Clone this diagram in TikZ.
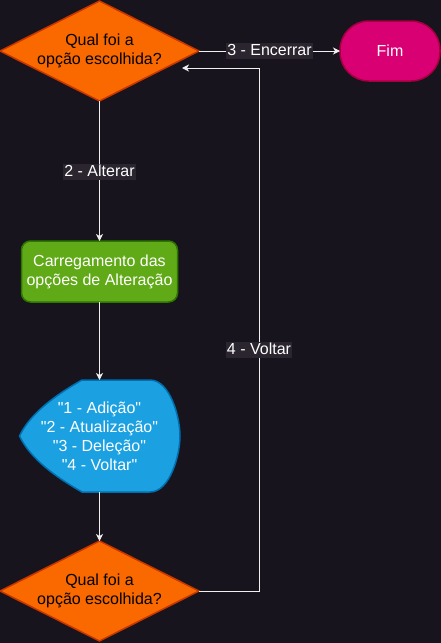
\documentclass[tikz,border=0pt]{standalone}
\usepackage{fontspec}
\setmainfont{Liberation Sans}[Ligatures=TeXOff]
\usetikzlibrary{shapes.geometric,positioning,arrows.meta}

\definecolor{bgdark}{HTML}{18141D}
\definecolor{linec}{HTML}{F0F0F0}
\definecolor{tagbg}{HTML}{2A252F}
\definecolor{decfill}{HTML}{FA6800}
\definecolor{decline}{HTML}{C73500}
\definecolor{procfill}{HTML}{60A917}
\definecolor{procline}{HTML}{2D7600}
\definecolor{dispfill}{HTML}{1BA1E2}
\definecolor{displine}{HTML}{006EAF}
\definecolor{endfill}{HTML}{D80073}
\definecolor{endline}{HTML}{A50040}

\begin{document}
\begin{tikzpicture}[x=1pt,y=1pt,every node/.style={outer sep=0pt},
 font=\fontsize{16}{19}\selectfont,
 decision/.style={diamond,aspect=2,draw=decline,fill=decfill,line width=1.5pt,
 inner sep=0pt,minimum width=199pt,minimum height=100pt,align=center,text=black},
 process/.style={rectangle,rounded corners=9pt,draw=procline,fill=procfill,
 line width=1.5pt,minimum width=156pt,minimum height=61pt,align=center,text=white},
 terminal/.style={rectangle,rounded corners=29pt,draw=endline,fill=endfill,
 line width=1.5pt,minimum width=100pt,minimum height=60pt,text=white},
 display/.style={draw=displine,fill=dispfill,line width=1.5pt},
 flow/.style={draw=linec,line width=1pt,-{Stealth[length=7pt,width=7pt,inset=2pt]}},
 tag/.style={fill=tagbg,text=white,inner xsep=1pt,inner ysep=0pt,
 text height=12pt,text depth=4pt}]

  \path[use as bounding box,fill=bgdark] (0,0) rectangle (441,-643);

  \node[decision] (dec1) at (99.5,-51) {Qual foi a\\opção escolhida?};
  \node[terminal,right=141pt of dec1] (fim) {Fim};
  \node[process,below=140pt of dec1] (load) {Carregamento das\\opções de Alteração};

  % display shape drawn round its centre
  \coordinate[below=134pt of load] (dispc);
  \draw[display,shift={(dispc)}] (-80,0) .. controls (-71,-19) and (-51,-37) .. (-17.5,-56)
   -- (50.5,-56) .. controls (70.5,-56) and (80.5,-19) .. (80.5,0)
   .. controls (80.5,19) and (70.5,56) .. (50.5,56) -- (-17.5,56)
   .. controls (-51,37) and (-71,19) .. cycle;
  \node[minimum width=161pt,minimum height=112pt,align=center,text=white] (disp) at (dispc)
   {"1 - Adição"\\"2 - Atualização"\\"3 - Deleção"\\"4 - Voltar"};

  \node[decision,below=49pt of disp] (dec2) {Qual foi a\\opção escolhida?};

  \draw[flow] (dec1.south) -- (load.north) node[tag,pos=0.51]{2 - Alterar};
  \draw[flow] (dec1.east) -- (fim.west) node[tag,midway]{3 - Encerrar};
  \draw[flow] (load.south) -- (disp.north);
  \draw[flow] (disp.south) -- (dec2.north);

  \coordinate (back) at ([xshift=-17pt,yshift=-17pt]dec1.east);
  \draw[flow] (dec2.east) -- ++(60,0) |- node[tag,pos=0.23]{4 - Voltar} (back);
\end{tikzpicture}
\end{document}
